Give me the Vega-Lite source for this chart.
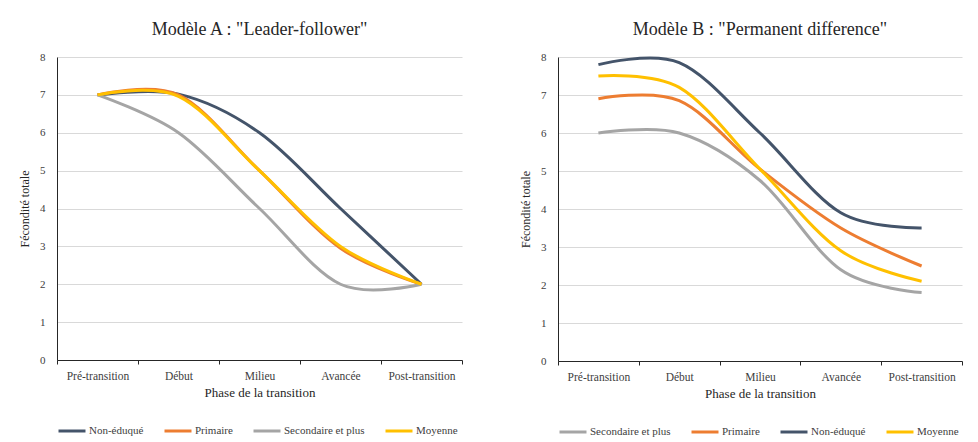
{
  "$schema": "https://vega.github.io/schema/vega-lite/v6.json",
  "background": "white",
  "padding": {"left": 18, "top": 21, "right": 5, "bottom": 5},
  "data": {"values": [
    {"modele": "A", "groupe": "Non-éduqué", "phase": "Pré-transition", "valeur": 7},
    {"modele": "A", "groupe": "Non-éduqué", "phase": "Début", "valeur": 7.02},
    {"modele": "A", "groupe": "Non-éduqué", "phase": "Milieu", "valeur": 6},
    {"modele": "A", "groupe": "Non-éduqué", "phase": "Avancée", "valeur": 4},
    {"modele": "A", "groupe": "Non-éduqué", "phase": "Post-transition", "valeur": 2},
    {"modele": "A", "groupe": "Primaire", "phase": "Pré-transition", "valeur": 7},
    {"modele": "A", "groupe": "Primaire", "phase": "Début", "valeur": 7},
    {"modele": "A", "groupe": "Primaire", "phase": "Milieu", "valeur": 5},
    {"modele": "A", "groupe": "Primaire", "phase": "Avancée", "valeur": 2.95},
    {"modele": "A", "groupe": "Primaire", "phase": "Post-transition", "valeur": 2},
    {"modele": "A", "groupe": "Secondaire et plus", "phase": "Pré-transition", "valeur": 7},
    {"modele": "A", "groupe": "Secondaire et plus", "phase": "Début", "valeur": 6},
    {"modele": "A", "groupe": "Secondaire et plus", "phase": "Milieu", "valeur": 4},
    {"modele": "A", "groupe": "Secondaire et plus", "phase": "Avancée", "valeur": 2},
    {"modele": "A", "groupe": "Secondaire et plus", "phase": "Post-transition", "valeur": 2},
    {"modele": "A", "groupe": "Moyenne", "phase": "Pré-transition", "valeur": 7},
    {"modele": "A", "groupe": "Moyenne", "phase": "Début", "valeur": 6.96},
    {"modele": "A", "groupe": "Moyenne", "phase": "Milieu", "valeur": 5},
    {"modele": "A", "groupe": "Moyenne", "phase": "Avancée", "valeur": 3},
    {"modele": "A", "groupe": "Moyenne", "phase": "Post-transition", "valeur": 2},
    {"modele": "B", "groupe": "Secondaire et plus", "phase": "Pré-transition", "valeur": 6},
    {"modele": "B", "groupe": "Secondaire et plus", "phase": "Début", "valeur": 6},
    {"modele": "B", "groupe": "Secondaire et plus", "phase": "Milieu", "valeur": 4.75},
    {"modele": "B", "groupe": "Secondaire et plus", "phase": "Avancée", "valeur": 2.4},
    {"modele": "B", "groupe": "Secondaire et plus", "phase": "Post-transition", "valeur": 1.8},
    {"modele": "B", "groupe": "Primaire", "phase": "Pré-transition", "valeur": 6.9},
    {"modele": "B", "groupe": "Primaire", "phase": "Début", "valeur": 6.85},
    {"modele": "B", "groupe": "Primaire", "phase": "Milieu", "valeur": 5.05},
    {"modele": "B", "groupe": "Primaire", "phase": "Avancée", "valeur": 3.5},
    {"modele": "B", "groupe": "Primaire", "phase": "Post-transition", "valeur": 2.5},
    {"modele": "B", "groupe": "Non-éduqué", "phase": "Pré-transition", "valeur": 7.8},
    {"modele": "B", "groupe": "Non-éduqué", "phase": "Début", "valeur": 7.85},
    {"modele": "B", "groupe": "Non-éduqué", "phase": "Milieu", "valeur": 6},
    {"modele": "B", "groupe": "Non-éduqué", "phase": "Avancée", "valeur": 3.9},
    {"modele": "B", "groupe": "Non-éduqué", "phase": "Post-transition", "valeur": 3.5},
    {"modele": "B", "groupe": "Moyenne", "phase": "Pré-transition", "valeur": 7.5},
    {"modele": "B", "groupe": "Moyenne", "phase": "Début", "valeur": 7.2},
    {"modele": "B", "groupe": "Moyenne", "phase": "Milieu", "valeur": 5.05},
    {"modele": "B", "groupe": "Moyenne", "phase": "Avancée", "valeur": 2.9},
    {"modele": "B", "groupe": "Moyenne", "phase": "Post-transition", "valeur": 2.1}
  ]},
  "hconcat": [
    {
      "width": 405, "height": 303,
      "title": {"text": "Modèle A : \"Leader-follower\""},
      "transform": [{"filter": "datum.modele == 'A'"}],
      "mark": {"type": "line", "interpolate": "cardinal", "strokeWidth": 3},
      "encoding": {
        "x": {"field": "phase", "type": "ordinal",
          "sort": ["Pré-transition", "Début", "Milieu", "Avancée", "Post-transition"],
          "scale": {"type": "band", "paddingInner": 0, "paddingOuter": 0},
          "bandPosition": 0.5,
          "axis": {"title": "Phase de la transition", "labelAngle": 0, "tickBand": "extent", "tickExtra": true, "grid": false, "tickSize": 4, "labelPadding": 6, "titlePadding": 5}},
        "y": {"field": "valeur", "type": "quantitative",
          "scale": {"domain": [0, 8], "nice": false},
          "axis": {"title": "Fécondité totale", "values": [0, 1, 2, 3, 4, 5, 6, 7, 8], "ticks": false, "grid": true, "labelPadding": 12, "titlePadding": 8}},
        "color": {"field": "groupe", "type": "nominal",
          "scale": {"domain": ["Non-éduqué", "Primaire", "Secondaire et plus", "Moyenne"], "range": ["#44546A", "#ED7D31", "#A5A5A5", "#FFC000"]},
          "legend": {"orient": "bottom", "direction": "horizontal", "columns": 4, "title": null}}
      }
    },
    {
      "width": 404, "height": 304,
      "title": {"text": "Modèle B : \"Permanent  difference\""},
      "transform": [{"filter": "datum.modele == 'B'"}],
      "mark": {"type": "line", "interpolate": "cardinal", "strokeWidth": 3},
      "encoding": {
        "x": {"field": "phase", "type": "ordinal",
          "sort": ["Pré-transition", "Début", "Milieu", "Avancée", "Post-transition"],
          "scale": {"type": "band", "paddingInner": 0, "paddingOuter": 0},
          "bandPosition": 0.5,
          "axis": {"title": "Phase de la transition", "labelAngle": 0, "tickBand": "extent", "tickExtra": true, "grid": false, "tickSize": 4, "labelPadding": 6, "titlePadding": 5}},
        "y": {"field": "valeur", "type": "quantitative",
          "scale": {"domain": [0, 8], "nice": false},
          "axis": {"title": "Fécondité totale", "values": [0, 1, 2, 3, 4, 5, 6, 7, 8], "ticks": false, "grid": true, "labelPadding": 12, "titlePadding": 8}},
        "color": {"field": "groupe", "type": "nominal",
          "scale": {"domain": ["Secondaire et plus", "Primaire", "Non-éduqué", "Moyenne"], "range": ["#A5A5A5", "#ED7D31", "#44546A", "#FFC000"]},
          "legend": {"orient": "bottom", "direction": "horizontal", "columns": 4, "title": null}}
      }
    }
  ],
  "spacing": 56,
  "resolve": {"scale": {"color": "independent"}, "legend": {"color": "independent"}},
  "config": {
    "font": "Liberation Serif",
    "view": {"stroke": null},
    "title": {"font": "Liberation Serif", "fontSize": 18, "fontWeight": "normal", "color": "#262626", "anchor": "middle", "offset": 12},
    "axis": {"labelFont": "Liberation Serif", "labelFontSize": 11.5, "labelColor": "#404040", "titleFont": "Liberation Serif", "titleFontWeight": "normal", "titleColor": "#262626", "titleFontSize": 13, "domainColor": "#262626", "tickColor": "#262626", "gridColor": "#d9d9d9"},
    "axisY": {"titleFontSize": 12, "labelFontSize": 11},
    "legend": {"labelFont": "Liberation Serif", "labelFontSize": 11, "labelColor": "#404040", "symbolType": "stroke", "symbolStrokeWidth": 3, "symbolSize": 729, "columnPadding": 14, "labelOffset": 2, "offset": 16}
  }
}
